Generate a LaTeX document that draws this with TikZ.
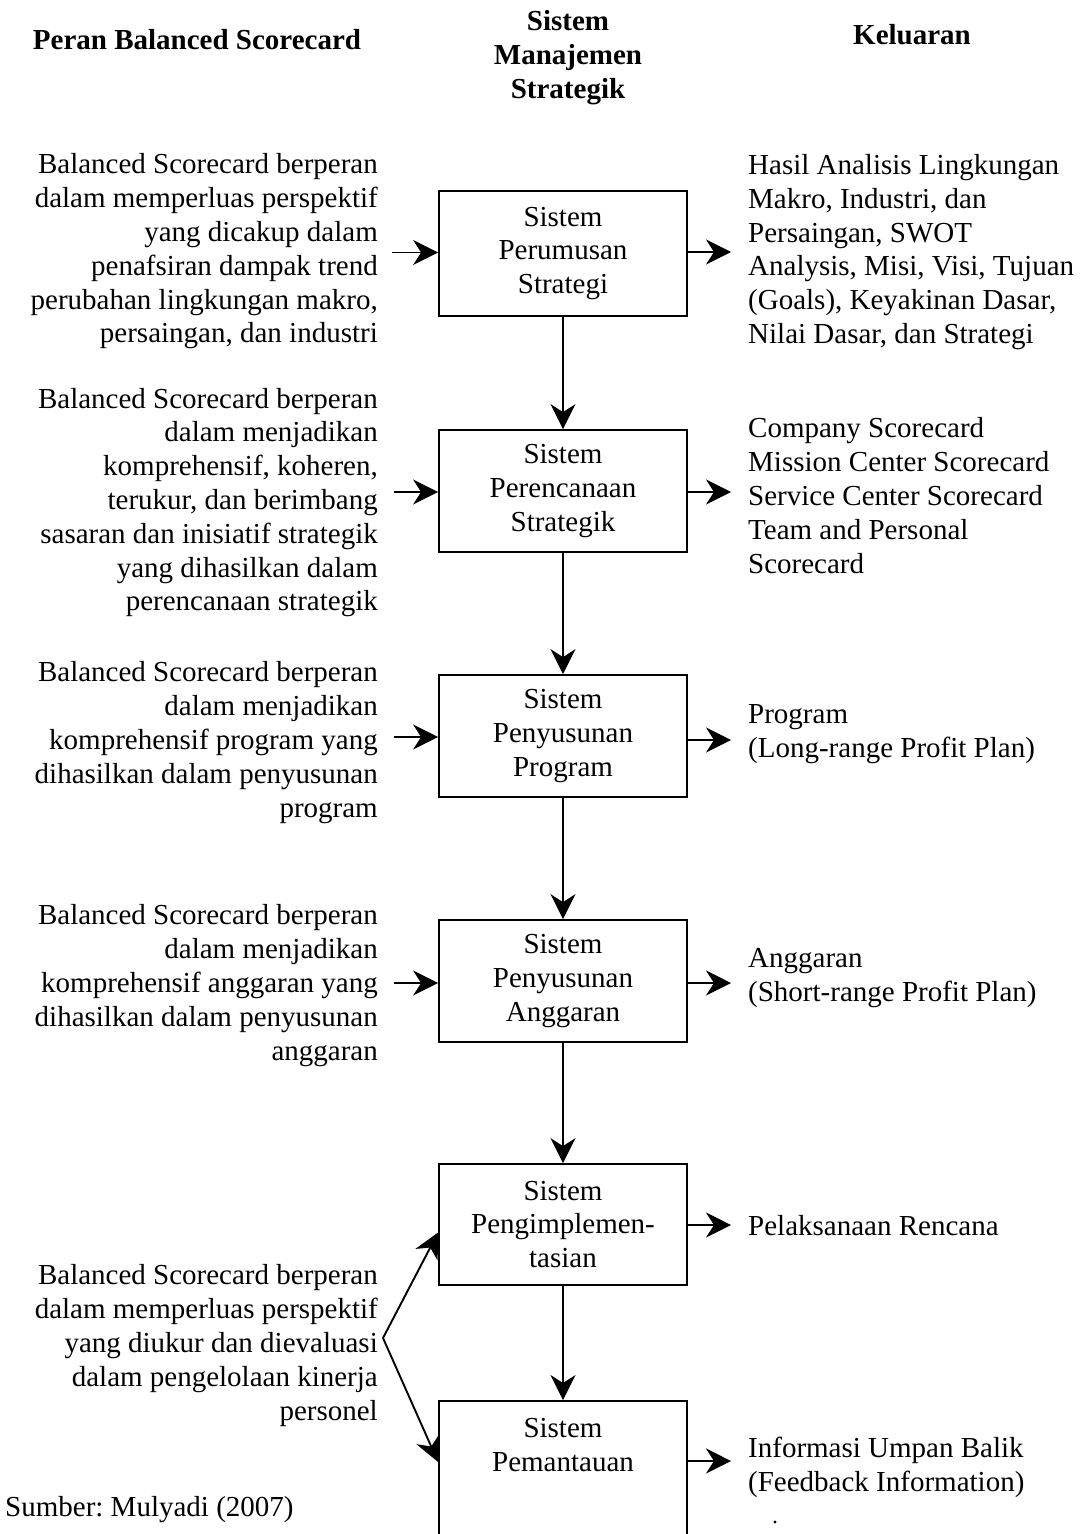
\documentclass[tikz,border=0pt]{standalone}
\usepackage{fontspec}
\setmainfont{Liberation Serif}
\usetikzlibrary{arrows.meta,calc}
\frenchspacing

\begin{document}
\begin{tikzpicture}[x=1pt,y=-1pt,
  txt/.style={font=\fontsize{29}{33.8}\selectfont, inner sep=0pt},
  head/.style={inner sep=0pt, font=\fontsize{29}{34}\selectfont\bfseries, align=center},
  role/.style={txt, anchor=east, align=right},
  outp/.style={txt, anchor=west, align=left},
  box/.style={txt, draw, line width=1.8pt, minimum width=248pt, minimum height=123pt, align=center},
  flow/.style={line width=1.9pt, -{Stealth[length=25pt,width=25pt,inset=8pt]}}
]
\clip (0,0) rectangle (1086,1534);
\fill[white] (0,0) rectangle (1086,1534);

% column headings
\node[head] (h1) at (197,40) {Peran Balanced Scorecard};
\node[head] (h2) at (568,58) {Sistem\\Manajemen\\Strategik};
\node[head] (h3) at (912,35) {Keluaran};

% strategic management systems
\node[box, minimum height=125pt] (b1) at (563,253.5) {Sistem\\Perumusan\\Strategi};
\node[box, minimum height=122pt] (b2) at (563,491) {Sistem\\Perencanaan\\Strategik};
\node[box, minimum height=122pt] (b3) at (563,736) {Sistem\\Penyusunan\\Program};
\node[box, minimum height=122pt] (b4) at (563,981) {Sistem\\Penyusunan\\Anggaran};
\node[box, minimum height=121pt] (b5) at (563,1224.5) {Sistem\\Pengimplemen-\\tasian};
\node[box, minimum height=200pt, anchor=north] (b6) at (563,1400) {};
\node[txt, align=center] (b6t) at (563,1445) {Sistem\\Pemantauan};

% flow between systems
\draw[flow] (b1) -- (b2);
\draw[flow] (b2) -- (b3);
\draw[flow] (b3) -- (b4);
\draw[flow] (b4) -- (b5);
\draw[flow] (b5) -- (b6);

% role of the Balanced Scorecard
\node[role] (r1) at (378,251.5) {Balanced Scorecard berperan\\dalam memperluas perspektif\\yang dicakup dalam\\penafsiran dampak trend\\perubahan lingkungan makro,\\persaingan, dan industri};
\node[role] (r2) at (378,502.5) {Balanced Scorecard berperan\\dalam menjadikan\\komprehensif, koheren,\\terukur, dan berimbang\\sasaran dan inisiatif strategik\\yang dihasilkan dalam\\perencanaan strategik};
\node[role] (r3) at (378,742.5) {Balanced Scorecard berperan\\dalam menjadikan\\komprehensif program yang\\dihasilkan dalam penyusunan\\program};
\node[role] (r4) at (378,985.5) {Balanced Scorecard berperan\\dalam menjadikan\\komprehensif anggaran yang\\dihasilkan dalam penyusunan\\anggaran};
\node[role] (r5) at (378,1345.5) {Balanced Scorecard berperan\\dalam memperluas perspektif\\yang diukur dan dievaluasi\\dalam pengelolaan kinerja\\personel};

% inputs into the systems
\coordinate (i1) at ($(b1.west)+(-46,-1)$);
\coordinate (i2) at ($(b2.west)+(-44,1)$);
\coordinate (i3) at ($(b3.west)+(-44,1)$);
\coordinate (i4) at ($(b4.west)+(-44,2)$);
\draw[flow] (i1) -- (i1 -| b1.west);
\draw[flow] (i2) -- (i2 -| b2.west);
\draw[flow] (i3) -- (i3 -| b3.west);
\draw[flow] (i4) -- (i4 -| b4.west);
\coordinate (v) at (383,1338);
\draw[flow] (v) -- ($(b5.west)+(0,8)$);
\draw[flow] (v) -- ($(b6.north west)+(0,62)$);

% outputs
\node[outp] (k1) at (748,252) {Hasil Analisis Lingkungan\\Makro, Industri, dan\\Persaingan, SWOT\\Analysis, Misi, Visi, Tujuan\\(Goals), Keyakinan Dasar,\\Nilai Dasar, dan Strategi};
\node[outp] (k2) at (748,495.5) {Company Scorecard\\Mission Center Scorecard\\Service Center Scorecard\\Team and Personal\\Scorecard};
\node[outp] (k3) at (748,734) {Program\\(Long-range Profit Plan)};
\node[outp] (k4) at (748,978) {Anggaran\\(Short-range Profit Plan)};
\node[outp] (k5) at (748,1226) {Pelaksanaan Rencana};
\node[outp] (k6) at (748,1467) {Informasi Umpan Balik\\(Feedback Information)};

\coordinate (o1) at (731,252);
\coordinate (o2) at (731,492);
\coordinate (o3) at (731,740);
\coordinate (o4) at (731,983);
\coordinate (o5) at (731,1225);
\coordinate (o6) at (731,1461);
\draw[flow] (o1 -| b1.east) -- (o1);
\draw[flow] (o2 -| b2.east) -- (o2);
\draw[flow] (o3 -| b3.east) -- (o3);
\draw[flow] (o4 -| b4.east) -- (o4);
\draw[flow] (o5 -| b5.east) -- (o5);
\draw[flow] (o6 -| b6.east) -- (o6);
\fill (775,1522) circle (1.6);

% source
\node[txt, anchor=west] (src) at (5,1510) {Sumber: Mulyadi (2007)};
\end{tikzpicture}
\end{document}
